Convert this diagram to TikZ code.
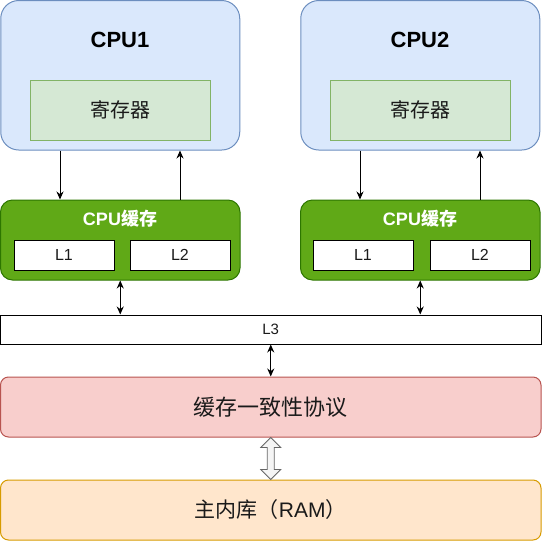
\documentclass[tikz,border=0pt]{standalone}
\usepackage{fontspec}
\setmainfont{Liberation Sans}
\newfontfamily\cjk{Noto Sans CJK SC}
\usetikzlibrary{arrows.meta,calc}
\definecolor{cpufill}{HTML}{DAE8FC}
\definecolor{cpudraw}{HTML}{6C8EBF}
\definecolor{regfill}{HTML}{D5E8D4}
\definecolor{regdraw}{HTML}{82B366}
\definecolor{cachefill}{HTML}{60A917}
\definecolor{cachedraw}{HTML}{2D7600}
\definecolor{protofill}{HTML}{F8CECC}
\definecolor{protodraw}{HTML}{B85450}
\definecolor{ramfill}{HTML}{FFE6CC}
\definecolor{ramdraw}{HTML}{D79B00}
\definecolor{hollowfill}{HTML}{F5F5F5}
\definecolor{hollowdraw}{HTML}{666666}
\definecolor{txt}{HTML}{1A1A1A}
\tikzset{
  box/.style={draw, line width=1pt, inner sep=0pt, text=txt},
  cpubox/.style={box, rounded corners=18pt, fill=cpufill, draw=cpudraw, minimum width=239pt, minimum height=149.5pt},
  regbox/.style={box, fill=regfill, draw=regdraw, minimum width=180pt, minimum height=60pt, font=\cjk\fontsize{20}{24}\selectfont},
  cachebox/.style={box, rounded corners=12pt, fill=cachefill, draw=cachedraw, minimum width=239.5pt, minimum height=80pt},
  lbox/.style={box, fill=white, draw=black, minimum width=100pt, minimum height=30pt, font=\fontsize{16}{19}\selectfont},
  widebox/.style={box, rounded corners=8pt, minimum width=540.5pt, minimum height=60pt},
  cputitle/.style={inner sep=0pt, text=black, font=\bfseries\fontsize{22}{26}\selectfont},
  cachetitle/.style={inner sep=0pt, text=white, font=\bfseries\fontsize{18}{21}\selectfont},
  arr/.style={line width=1pt, -{Stealth[length=8pt,width=7pt]}},
  darr/.style={line width=1pt, {Stealth[length=8pt,width=7pt]}-{Stealth[length=8pt,width=7pt]}},
}
\begin{document}
\begin{tikzpicture}[x=1pt,y=-1pt]
\useasboundingbox (0,0) rectangle (542,542);
% CPU 1
\node[cpubox] (cpu1) at (120.25,75.25) {};
\node[cputitle] (cpu1t) at (120,40) {CPU1};
\node[regbox] (reg1) at (120,110) {寄存器};
% CPU 2
\node[cpubox] (cpu2) at (420.25,75.25) {};
\node[cputitle] (cpu2t) at (420,40) {CPU2};
\node[regbox] (reg2) at (420,110) {寄存器};
% caches
\node[cachebox] (cache1) at (120.25,240) {};
\node[cachetitle] (cache1t) at (120,219) {CPU{\cjk\bfseries 缓存}};
\node[lbox] (l11) at (64,255) {L1};
\node[lbox] (l21) at (180,255) {L2};
\node[cachebox] (cache2) at (420.25,240) {};
\node[cachetitle] (cache2t) at (420,219) {CPU{\cjk\bfseries 缓存}};
\node[lbox] (l12) at (363,255) {L1};
\node[lbox] (l22) at (480,255) {L2};
% L3
\node[box, fill=white, draw=black, minimum width=540.5pt, minimum height=29pt, font=\fontsize{15}{18}\selectfont] (l3) at (270.75,329.5) {L3};
% protocol and RAM
\node[widebox, fill=protofill, draw=protodraw, font=\cjk\fontsize{22}{26}\selectfont] (proto) at (270.75,407) {缓存一致性协议};
\node[widebox, fill=ramfill, draw=ramdraw, font=\fontsize{21}{25}\selectfont] (ram) at (270.75,510) {{\cjk 主内库（}RAM{\cjk ）}};
% connectors CPU <-> cache
\draw[arr] ([xshift=-60.25pt]cpu1.south) -- ([xshift=-60.25pt]cache1.north);
\draw[arr] ([xshift=59.75pt]cache1.north) -- ([xshift=59.75pt]cpu1.south);
\draw[arr] ([xshift=-60.25pt]cpu2.south) -- ([xshift=-60.25pt]cache2.north);
\draw[arr] ([xshift=59.75pt]cache2.north) -- ([xshift=59.75pt]cpu2.south);
% cache <-> L3
\draw[darr] (cache1.south) -- (cache1.south |- l3.north);
\draw[darr] (cache2.south) -- (cache2.south |- l3.north);
% L3 <-> protocol
\draw[darr] (l3.south) -- (proto.north);
% hollow double arrow protocol <-> RAM
\draw[line width=0.8pt, draw=hollowdraw, fill=hollowfill, line join=miter]
  (proto.south)
  -- ($(proto.south)+(10,10)$) -- ($(proto.south)+(3.5,10)$)
  -- ($(ram.north)+(3.5,-10)$) -- ($(ram.north)+(10,-10)$)
  -- (ram.north)
  -- ($(ram.north)+(-10,-10)$) -- ($(ram.north)+(-3.5,-10)$)
  -- ($(proto.south)+(-3.5,10)$) -- ($(proto.south)+(-10,10)$)
  -- cycle;
\end{tikzpicture}
\end{document}
